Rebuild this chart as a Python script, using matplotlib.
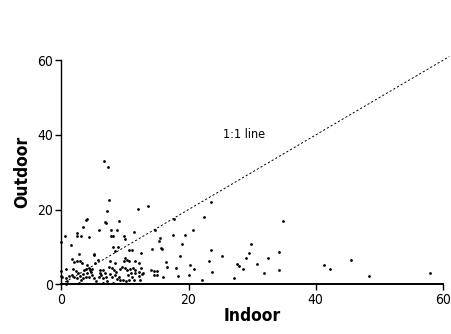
import numpy as np
import matplotlib
matplotlib.use("Agg")
import matplotlib.pyplot as plt

plt.rcParams['font.family'] = ['DejaVu Sans']
plt.rcParams['font.stretch'] = 'condensed'

# indoor / outdoor values
indoor = [
    6.7, 7.3, 7.5, 7.2, 13.6, 12.0, 23.5, 22.5, 17.7, 34.8,
    4.0, 3.9, 3.4, 6.8, 7.1, 6.0, 9.0, 7.8, 8.8, 9.8,
    10.0, 11.5, 2.4, 2.4, 0.6, 3.1, 4.4, 7.8, 8.2, 0.0,
    1.5, 14.8, 15.5, 15.4, 17.6, 19.5, 20.7, 18.9, 29.8, 23.6,
    14.3, 15.6, 15.8, 8.1, 8.9, 10.7, 11.1, 8.5, 5.2, 5.1,
    2.7, 12.5, 34.3, 29.5, 18.7, 25.3, 29.0, 32.5, 10.0, 10.4,
    1.6, 2.4, 3.0, 5.8, 16.4, 23.2, 20.3, 20.9, 30.8, 45.5,
    41.3, 42.3, 27.9, 27.7, 28.6, 34.3, 23.7, 31.8, 58.0, 0.7,
    0.0, 16.6, 18.0, 14.1, 14.6, 16.0, 18.3, 20.1, 22.1, 27.1,
    48.4, 0.0, 0.8,
    0.68, 1.26, 1.63, 1.99, 2.46, 2.94, 3.15, 2.73, 3.46, 3.62,
    3.88, 4.09, 4.30, 4.51, 4.61, 4.82, 4.77, 4.30, 3.88, 3.36,
    5.14, 5.45, 5.87, 6.08, 6.29, 6.61, 6.82, 7.03, 7.13, 6.55,
    7.60, 7.45, 7.97, 8.29, 8.49, 8.70, 9.02, 8.18, 9.23, 9.75,
    10.17, 10.59, 11.12, 11.43, 11.54, 11.64, 11.33, 10.80, 10.28, 9.96,
    9.54, 12.17, 12.27, 12.69, 12.90, 12.38, 12.48, 0.84, 1.78, 2.31,
    2.62, 3.20, 4.09, 5.30, 6.08, 6.61, 7.97, 8.44, 9.23, 8.60,
    10.91, 10.44, 10.7, 11.6, 12.2, 2.0, 7.6, 9.8, 14.6, 15.1,
    15.0, 0.1,
]
outdoor = [
    33.0, 31.3, 22.5, 19.6, 20.9, 20.1, 22.0, 18.1, 17.4, 17.0,
    17.6, 17.1, 15.3, 16.7, 16.3, 14.4, 17.0, 14.4, 14.6, 12.9,
    12.0, 13.9, 13.8, 12.8, 13.0, 12.9, 12.7, 12.9, 12.9, 11.2,
    10.4, 14.6, 12.4, 11.6, 13.3, 13.1, 14.4, 10.8, 10.8, 9.2,
    9.4, 9.7, 9.4, 9.9, 10.0, 9.1, 9.2, 8.9, 8.1, 7.8,
    8.1, 8.5, 8.7, 8.5, 7.5, 7.6, 7.1, 7.1, 7.0, 6.5,
    6.8, 6.3, 6.3, 6.4, 5.9, 6.2, 5.2, 4.2, 5.4, 6.4,
    5.2, 4.2, 4.9, 5.4, 4.2, 3.9, 3.2, 3.0, 3.0, 4.2,
    3.6, 4.5, 4.4, 3.8, 2.5, 2.0, 2.1, 2.4, 1.1, 1.8,
    2.3, 2.1, 0.0,
    1.70, 2.23, 2.41, 1.88, 1.79, 2.32, 1.16, 0.27, 2.86, 3.84,
    4.02, 2.95, 4.29, 3.93, 3.39, 4.02, 2.41, 2.05, 1.88, 1.79,
    1.61, 0.98, 1.88, 2.95, 2.41, 1.70, 2.95, 1.88, 0.98, 0.27,
    2.68, 4.73, 4.29, 3.84, 2.41, 1.52, 1.88, 0.27, 1.25, 1.16,
    0.98, 1.07, 1.88, 1.16, 2.95, 3.84, 4.38, 4.20, 3.84, 4.46,
    4.73, 3.39, 2.23, 2.68, 3.13, 1.16, 4.38, 0.80, 4.20, 3.48,
    2.95, 5.80, 5.09, 5.63, 3.84, 3.84, 2.05, 5.63, 4.02, 3.39,
    3.13, 2.41, 6.2, 6.2, 5.8, 5.9, 6.2, 6.1, 3.6, 3.6,
    2.4, 1.9,
]

ticks = [0, 20, 40, 60]
line_end = 61

fig = plt.figure(figsize=(4.51, 3.34), dpi=100)
ax = fig.add_axes([0.136, 0.149, 0.846, 0.6705])

ax.scatter(indoor, outdoor, s=4, color='black', linewidths=0, clip_on=False, zorder=3)
ax.plot([0, line_end], [0, line_end], color='black', lw=0.7,
        linestyle=(0, (2.2, 2.2)), clip_on=False)
ax.text(25.4, 40.2, '1:1 line', fontsize=9, va='center', ha='left')

ax.set_xlim(0, 60)
ax.set_ylim(0, 60)
ax.set_xticks(ticks)
ax.set_yticks(ticks)
ax.tick_params(direction='out', length=4, width=1, labelsize=10, pad=2)

for s in ['top', 'right']:
    ax.spines[s].set_visible(False)
ax.spines['left'].set_linewidth(1)
ax.spines['bottom'].set_linewidth(1.4)

ax.set_xlabel('Indoor', fontsize=12.5, fontweight='bold', labelpad=0)
ax.set_ylabel('Outdoor', fontsize=12.5, fontweight='bold', labelpad=4)

fig.savefig('out.png', dpi=100)
